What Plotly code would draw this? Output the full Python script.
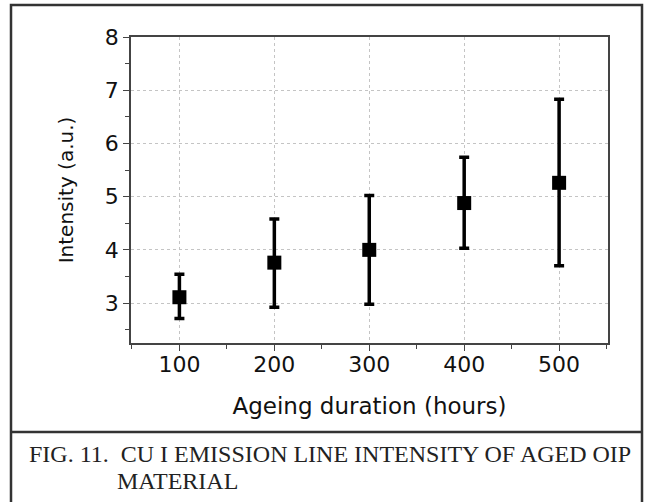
import plotly.graph_objects as go

# Data
hours = [100, 200, 300, 400, 500]
intensity = [3.11, 3.76, 4.00, 4.88, 5.26]
err_plus = [0.43, 0.82, 1.02, 0.86, 1.57]
err_minus = [0.40, 0.84, 1.02, 0.85, 1.56]

x_ticks = [100, 200, 300, 400, 500]
y_ticks = [3, 4, 5, 6, 7, 8]

W, H = 645, 502
L, R, T, B = 131, 37, 37, 159
PW, PH = W - L - R, H - T - B


def px(xp):
    return (xp - L) / PW


def py(yp):
    return (H - B - yp) / PH


fig = go.Figure()
fig.add_trace(go.Scatter(
    x=hours, y=intensity, mode="markers",
    marker=dict(symbol="square", size=14, color="black"),
    error_y=dict(type="data", symmetric=False, array=err_plus, arrayminus=err_minus,
                 color="black", thickness=3.5, width=5),
    showlegend=False,
))

axis_common = dict(
    showline=True, linecolor="#444", linewidth=1.5, mirror=True,
    ticks="outside", ticklen=6, tickwidth=1.2, tickcolor="#444",
    showgrid=True, gridcolor="#c4c4c4", gridwidth=1, griddash="dot",
    zeroline=False,
    tickfont=dict(family="DejaVu Sans", size=22, color="#111"),
)

fig.update_xaxes(
    range=[49, 551.5], tickvals=x_ticks, ticklabelstandoff=-5,
    minor=dict(ticks="outside", ticklen=4, tickcolor="#444", dtick=100, tick0=50, showgrid=False),
    title=dict(text="Ageing duration (hours)", font=dict(family="DejaVu Sans", size=23, color="#111"), standoff=22),
    **axis_common,
)
fig.update_yaxes(
    range=[2.25, 8], tickvals=y_ticks,
    minor=dict(ticks="outside", ticklen=4, tickcolor="#444", dtick=1, tick0=2.5, showgrid=False),
    title=dict(text="Intensity (a.u.)", font=dict(family="DejaVu Sans", size=20, color="#111"), standoff=26),
    **axis_common,
)

shapes = [
    dict(type="rect", xref="paper", yref="paper", x0=px(11), x1=px(642), y0=py(505), y1=py(5),
         line=dict(color="#333", width=2.5), fillcolor="rgba(0,0,0,0)", layer="below"),
    dict(type="line", xref="paper", yref="paper", x0=px(11), x1=px(642), y0=py(432), y1=py(432),
         line=dict(color="#333", width=2.5)),
]

annotations = [
    dict(text="FIG. 11.\u00a0\u00a0CU I EMISSION LINE INTENSITY OF AGED OIP", xref="paper", yref="paper",
         x=px(27), y=py(454), xanchor="left", yanchor="middle", showarrow=False,
         font=dict(family="Liberation Serif", size=24, color="#222")),
    dict(text="MATERIAL", xref="paper", yref="paper",
         x=px(115), y=py(481), xanchor="left", yanchor="middle", showarrow=False,
         font=dict(family="Liberation Serif", size=24, color="#222")),
]

fig.update_layout(
    width=W, height=H, margin=dict(l=L, r=R, t=T, b=B),
    paper_bgcolor="white", plot_bgcolor="white",
    shapes=shapes, annotations=annotations,
)

fig.write_html("out.html")
